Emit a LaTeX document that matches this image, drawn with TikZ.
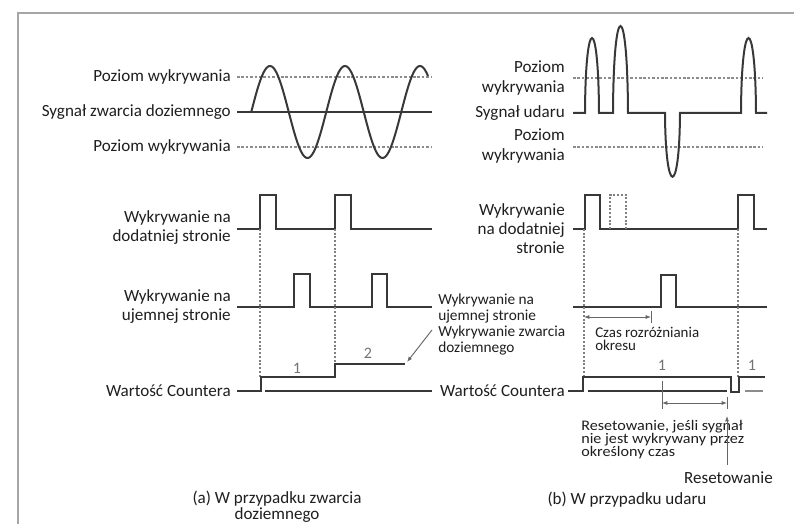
\documentclass[tikz,border=0pt]{standalone}
\usepackage{fontspec}
\setmainfont{Carlito}
\usetikzlibrary{arrows.meta}
\begin{document}
\begin{tikzpicture}[x=0.75pt,y=-0.75pt,
  sig/.style={draw=black!78, line width=1.5pt, line join=miter},
  lvl/.style={draw=black!45, line width=0.9pt, dash pattern=on 2pt off 1.3pt},
  vdot/.style={draw=black!50, line width=0.8pt, dash pattern=on 1.5pt off 1.3pt},
  lab/.style={font=\fontsize{12.8}{14.3}\selectfont, inner sep=0pt, text=black!88},
  num/.style={font=\fontsize{12}{14}\selectfont, inner sep=0pt, text=black!55},
  note/.style={font=\fontsize{11.5}{11.8}\selectfont, inner sep=0pt, text=black!88, align=left},
  meas/.style={draw=black!60, line width=0.7pt},
  tip/.style={-{Latex[length=4pt,width=3pt]}},
  dtip/.style={{Latex[length=4pt,width=3pt]}-{Latex[length=4pt,width=3pt]}}
]
\useasboundingbox (0,0) rectangle (794,524);
\fill[white] (0,0) rectangle (794,524);
\draw[draw=black!35, line width=1.5pt] (18,524) -- (18,13) -- (794,13);

% ---------- (a) ----------
\node[lab, anchor=east] (a1) at (231,77) {Poziom wykrywania};
\node[lab, anchor=east] (a2) at (231,112) {Sygnał zwarcia doziemnego};
\node[lab, anchor=east] (a3) at (231,147) {Poziom wykrywania};
\node[lab, anchor=east, align=right] (a4) at (231,228) {Wykrywanie na\\dodatniej stronie};
\node[lab, anchor=east, align=right] (a5) at (231,307) {Wykrywanie na\\ujemnej stronie};
\node[lab, anchor=east] (a6) at (231,391) {Wartość Countera};

\draw[lvl] (237,77) -- (432,77);
\draw[lvl] (237,147) -- (432,147);
\draw[sig] (237,112) -- (432,112);
\draw[sig] plot[domain=251.25:428, samples=140, smooth] (\x,{112-46*sin(4.8*(\x-251.25))});

\draw[sig] (237,229) -- (260,229) -- (260,195) -- (276,195) -- (276,229) -- (335,229) -- (335,195) -- (351,195) -- (351,229) -- (432,229);
\draw[sig] (237,307) -- (294,307) -- (294,274) -- (310,274) -- (310,307) -- (372,307) -- (372,274) -- (387,274) -- (387,307) -- (432,307);

\draw[vdot] (260,229) -- (260,377);
\draw[vdot] (335,229) -- (335,364);

\draw[sig] (237,391) -- (261,391) -- (261,377) -- (335,377) -- (335,364) -- (405,364);
\draw[sig] (265,391) -- (432,391);
\node[num] (n1a) at (297,368) {1};
\node[num] (n2a) at (368,353) {2};

\coordinate (a2end) at (407,362);
\coordinate (a2start) at (432,330);
\draw[meas, tip] (a2start) -- (a2end);
\node[note, anchor=west] (notea) at (438,324.5) {Wykrywanie na\\ujemnej stronie\\Wykrywanie zwarcia\\doziemnego};

\node[lab, align=center, font=\fontsize{12.8}{9.2}\selectfont] (capa) at (277,507) {(a) W przypadku zwarcia\\doziemnego};

% ---------- (b) ----------
\node[lab, anchor=east, align=right] (b1) at (565,78) {Poziom\\wykrywania};
\node[lab, anchor=east] (b2) at (565,113) {Sygnał udaru};
\node[lab, anchor=east, align=right] (b3) at (565,146) {Poziom\\wykrywania};
\node[lab, anchor=east, align=right] (b4) at (565,229) {Wykrywanie\\na dodatniej\\stronie};
\node[lab, anchor=east] (b6) at (565,391) {Wartość Countera};

\draw[lvl] (573,78) -- (763,78);
\draw[lvl] (573,147) -- (763,147);
\draw[sig] (573,113) -- (585,113) .. controls (585.5,13) and (598.5,13) .. (599,113)
  -- (613,113) .. controls (613.5,-3) and (627.5,-3) .. (628,113)
  -- (665,113) .. controls (665.5,198) and (679.5,198) .. (680,113)
  -- (741,113) .. controls (741.5,13) and (755.5,13) .. (756,113) -- (767,113);

\draw[sig] (573,229) -- (585,229) -- (585,195) -- (600,195) -- (600,229) -- (738,229) -- (738,195) -- (754,195) -- (754,229) -- (767,229);
\draw[vdot, line width=1pt] (610,229) -- (610,195) -- (626,195) -- (626,229);
\draw[sig] (573,307) -- (661,307) -- (661,275) -- (676,275) -- (676,307) -- (767,307);

\draw[vdot] (584,229) -- (584,377);
\draw[vdot] (738,229) -- (738,377);

\draw[sig] (568,391) -- (583,391) -- (583,377) -- (731,377) -- (731,392) -- (739,392) -- (739,377) -- (765,377);
\draw[sig] (588,391) -- (727,391);
\draw[draw=black!45, line width=1pt] (745,391) -- (763,391);
\node[num] (n1b) at (662,365) {1};
\node[num] (n1c) at (752,365) {1};

\coordinate (czL) at (584,317);
\coordinate (czR) at (651,317);
\draw[meas, dtip] (czL) -- (czR);
\draw[meas] (651,311) -- (651,323);
\node[note, anchor=west, font=\fontsize{11.2}{10.2}\selectfont] (czas) at (595,339) {Czas rozróżniania\\okresu};

\coordinate (rsL) at (662,403);
\coordinate (rsR) at (727,403);
\draw[meas] (662,381) -- (662,409);
\draw[meas] (727,397) -- (727,409);
\draw[meas, dtip] (rsL) -- (rsR);
\node[note, anchor=west, font=\fontsize{11}{9.8}\selectfont, xscale=1.1, transform shape] (rsnote) at (581,439.5) {Resetowanie, jeśli sygnał\\nie jest wykrywany przez\\określony czas};

\node[lab, anchor=east] (rst) at (773,478) {Resetowanie};
\coordinate (rtop) at (727,416);
\draw[meas, tip] (727,465) -- (rtop);

\node[lab] (capb) at (627,500) {(b) W przypadku udaru};
\end{tikzpicture}
\end{document}
